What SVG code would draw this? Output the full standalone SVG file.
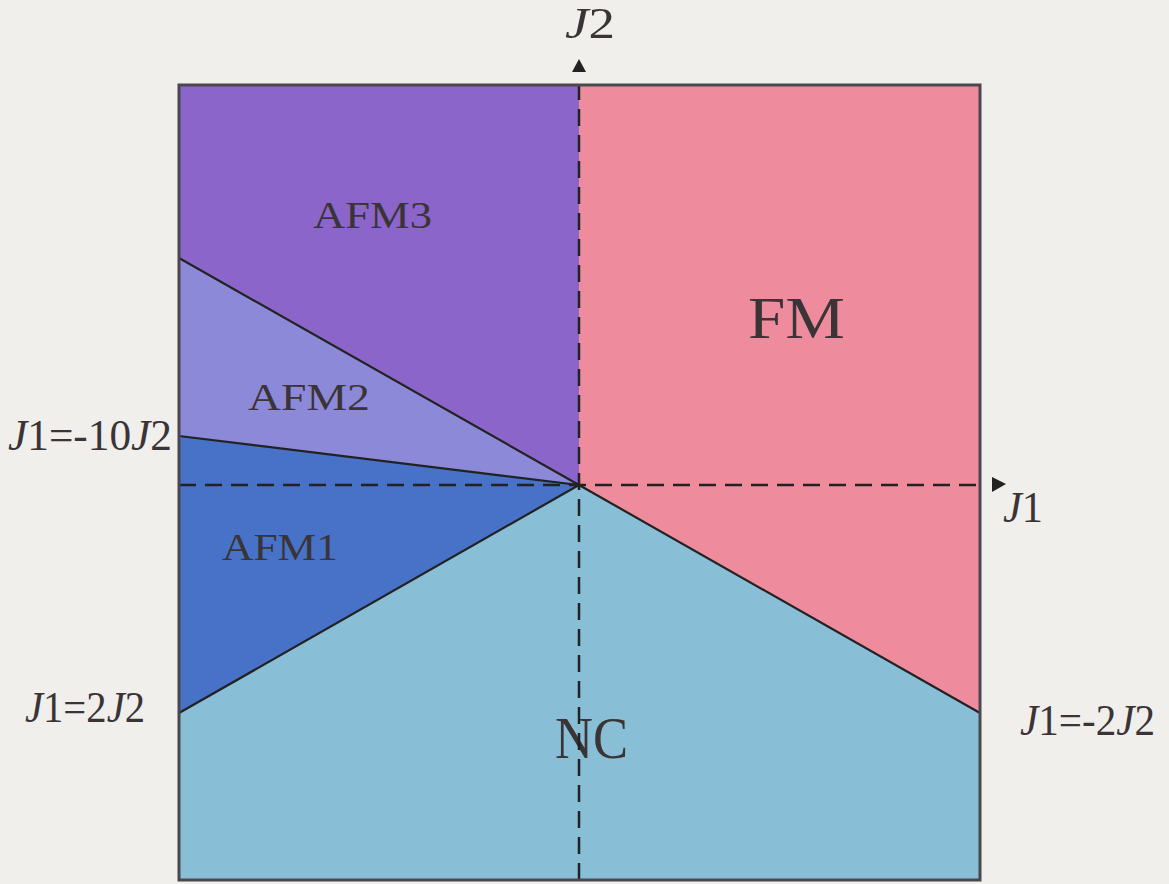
<svg xmlns="http://www.w3.org/2000/svg" width="1169" height="884" viewBox="0 0 1169 884">
<style>
.lbl{font-family:"Liberation Serif","DejaVu Serif",serif;fill:#3a3436}
.j{font-style:italic}
.edge{stroke:#222;stroke-width:2.2;fill:none}
.dash{stroke:#222;stroke-width:2.5;stroke-dasharray:17 9;fill:none}
.arrow{fill:#222}
</style>
<rect width="1169" height="884" fill="#f1efec"/>
<g id="AFM3"><polygon points="179,85 579,85 579,485 179,258" fill="#8b65c9"/><text class="lbl" x="313" y="228" font-size="38" textLength="119" lengthAdjust="spacingAndGlyphs">AFM3</text></g>
<g id="AFM2"><polygon points="179,258 579,485 179,436" fill="#8d89d9"/><text class="lbl" x="248" y="410" font-size="38" textLength="122" lengthAdjust="spacingAndGlyphs">AFM2</text></g>
<g id="AFM1"><polygon points="179,436 579,485 179,713" fill="#4772c8"/><text class="lbl" x="222" y="560" font-size="38" textLength="116" lengthAdjust="spacingAndGlyphs">AFM1</text></g>
<g id="NC"><polygon points="179,713 579,485 980,713 980,880 179,880" fill="#89bed7"/><text class="lbl" x="555" y="758" font-size="60" textLength="73" lengthAdjust="spacingAndGlyphs">NC</text></g>
<g id="FM"><polygon points="579,85 980,85 980,713 579,485" fill="#ee8c9d"/><text class="lbl" x="748" y="338" font-size="60" textLength="97" lengthAdjust="spacingAndGlyphs">FM</text></g>
<g id="connectors">
<line class="edge" x1="579" y1="485" x2="179" y2="258"/>
<line class="edge" x1="579" y1="485" x2="179" y2="436"/>
<line class="edge" x1="579" y1="485" x2="179" y2="713"/>
<line class="edge" x1="579" y1="485" x2="980" y2="713"/>
<line class="dash" x1="579" y1="880" x2="579" y2="85"/>
<line class="dash" x1="179" y1="485" x2="980" y2="485"/>
<polygon class="arrow" points="572,72 586,72 579,59"/>
<polygon class="arrow" points="992,477 992,492 1006,484"/>
<rect x="179" y="85" width="801" height="795" fill="none" stroke="#4a474d" stroke-width="3"/>
</g>
<g id="labels">
<text class="lbl" x="565" y="38" font-size="44" textLength="50" lengthAdjust="spacingAndGlyphs"><tspan class="j">J</tspan>2</text>
<text class="lbl" x="1003" y="522" font-size="44" textLength="40" lengthAdjust="spacingAndGlyphs"><tspan class="j">J</tspan>1</text>
<text class="lbl" x="8" y="450" font-size="44" textLength="164" lengthAdjust="spacingAndGlyphs"><tspan class="j">J</tspan>1=-10<tspan class="j">J</tspan>2</text>
<text class="lbl" x="25" y="722" font-size="44" textLength="120" lengthAdjust="spacingAndGlyphs"><tspan class="j">J</tspan>1=2<tspan class="j">J</tspan>2</text>
<text class="lbl" x="1020" y="735" font-size="44" textLength="135" lengthAdjust="spacingAndGlyphs"><tspan class="j">J</tspan>1=-2<tspan class="j">J</tspan>2</text>
</g>
</svg>
